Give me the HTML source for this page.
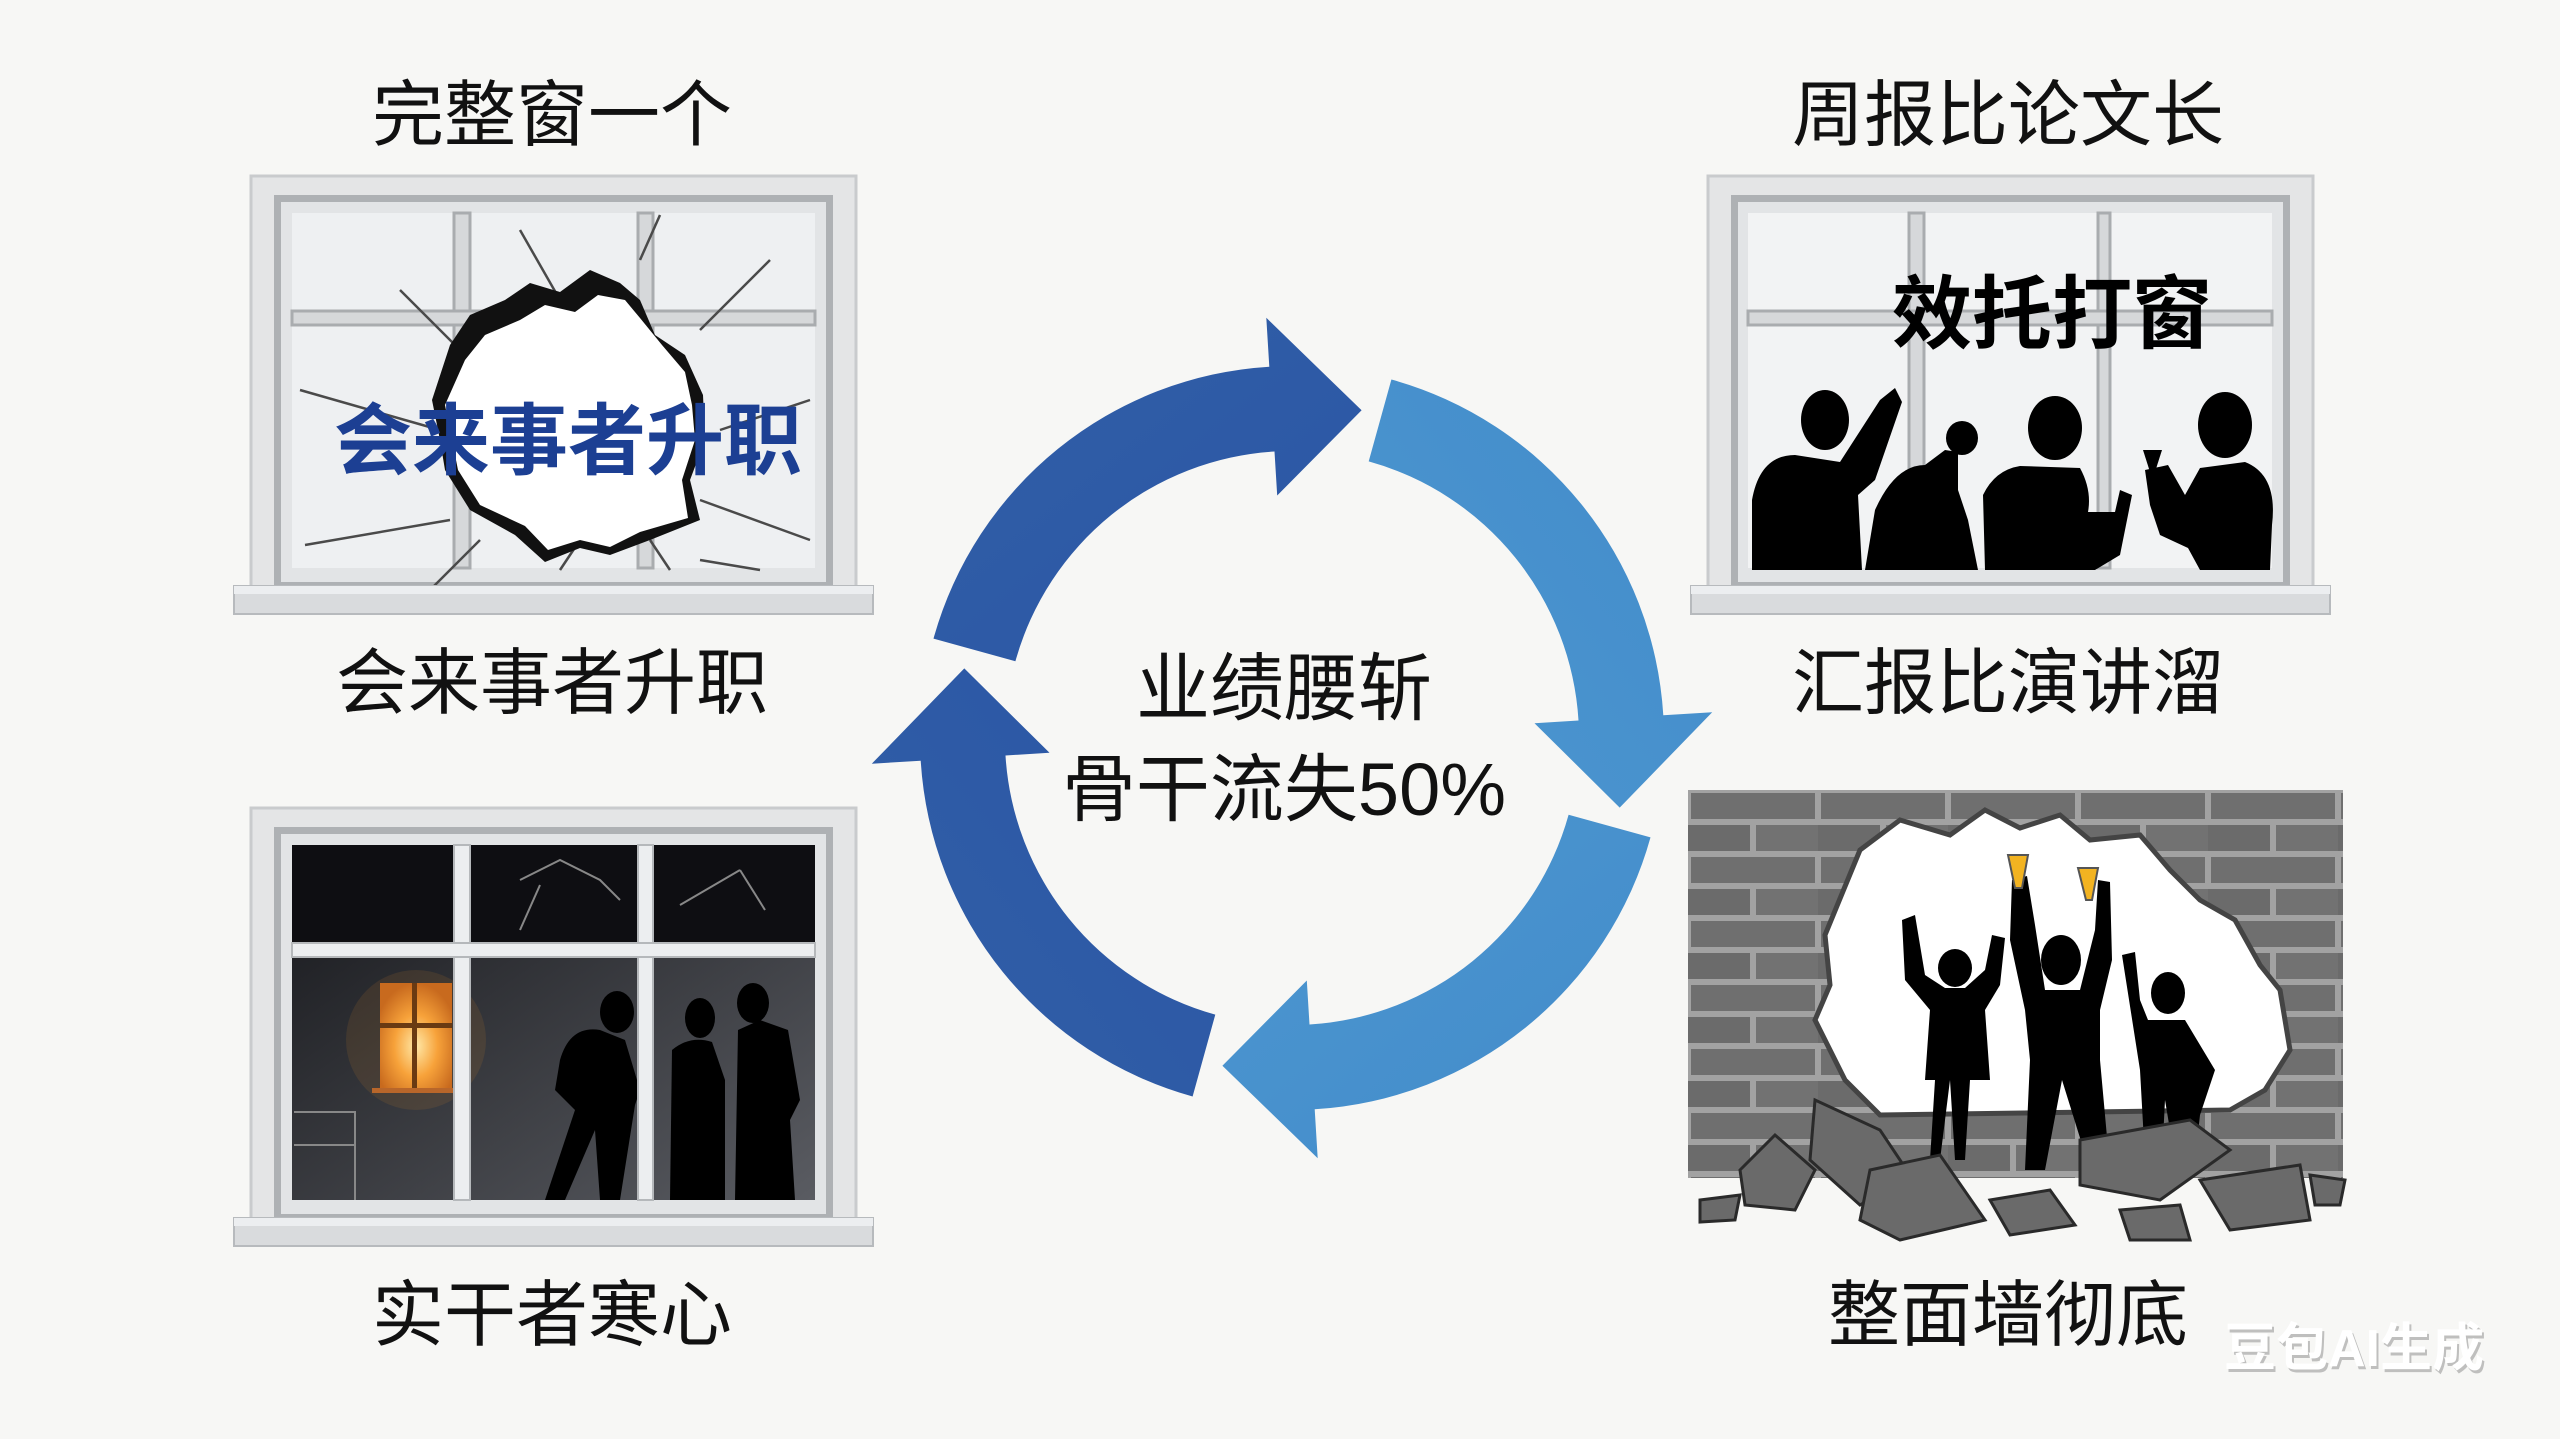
<!DOCTYPE html>
<html><head><meta charset="utf-8"><style>
html,body{margin:0;padding:0;background:#f7f7f5;}
svg{display:block}
text{font-family:"Liberation Sans","Noto Sans CJK SC",sans-serif;}
</style></head><body>
<svg width="2560" height="1439" viewBox="0 0 2560 1439" xmlns="http://www.w3.org/2000/svg">
<defs>
<linearGradient id="dk" x1="0" y1="0" x2="1" y2="1"><stop offset="0" stop-color="#2a55a4"/><stop offset="1" stop-color="#3260a8"/></linearGradient>
<linearGradient id="lt" x1="0" y1="0" x2="1" y2="1"><stop offset="0" stop-color="#4d97cf"/><stop offset="1" stop-color="#428bcb"/></linearGradient>
<linearGradient id="night" x1="0" y1="0" x2="1" y2="1"><stop offset="0" stop-color="#16171b"/><stop offset="1" stop-color="#5a5c62"/></linearGradient>
<radialGradient id="glow" cx="0.5" cy="0.6" r="0.6"><stop offset="0" stop-color="#ffe9a8"/><stop offset="0.5" stop-color="#f7a23a"/><stop offset="1" stop-color="#c86a1e"/></radialGradient>
<pattern id="brick" x="1688" y="790" width="130" height="64" patternUnits="userSpaceOnUse">
<rect width="130" height="64" fill="#a2a2a2"/>
<rect x="3" y="3" width="124" height="26" fill="#6f6f6f"/>
<rect x="-62" y="35" width="124" height="26" fill="#6b6b6b"/>
<rect x="68" y="35" width="124" height="26" fill="#727272"/>
</pattern>
<g id="frame">
<rect x="0" y="0" width="605" height="412" fill="#e4e5e6" stroke="#c9cbcd" stroke-width="3"/>
<rect x="23" y="19" width="559" height="390" fill="#aeb1b4"/>
<rect x="30" y="26" width="545" height="380" fill="#e2e4e6"/>
</g>
</defs>

<g font-size="72" fill="#111" text-anchor="middle">
<text x="552" y="140">完整窗一个</text>
<text x="552" y="708">会来事者升职</text>
<text x="552" y="1340">实干者寒心</text>
<text x="2008" y="140">周报比论文长</text>
<text x="2008" y="708">汇报比演讲溜</text>
<text x="2008" y="1340">整面墙彻底</text>
</g>

<!-- TL window -->
<g>
<use href="#frame" x="251" y="176"/>
<rect x="292" y="213" width="523" height="355" fill="#eef0f2"/>
<rect x="454" y="213" width="16" height="355" fill="#d6d8da" stroke="#a9acaf" stroke-width="3"/>
<rect x="638" y="213" width="15" height="355" fill="#d6d8da" stroke="#a9acaf" stroke-width="3"/>
<rect x="292" y="311" width="523" height="14" fill="#d6d8da" stroke="#a9acaf" stroke-width="3"/>
<g stroke="#4a4a4a" stroke-width="2.5">
<line x1="560" y1="300" x2="520" y2="230"/><line x1="470" y1="360" x2="400" y2="290"/><line x1="440" y1="430" x2="300" y2="390"/>
<line x1="450" y1="520" x2="305" y2="545"/><line x1="480" y1="540" x2="420" y2="600"/><line x1="580" y1="540" x2="560" y2="570"/>
<line x1="640" y1="260" x2="660" y2="215"/><line x1="700" y1="330" x2="770" y2="260"/><line x1="720" y1="430" x2="810" y2="400"/>
<line x1="700" y1="560" x2="760" y2="570"/><line x1="650" y1="540" x2="670" y2="570"/><line x1="700" y1="500" x2="810" y2="540"/>
</g>
<polygon points="450,345 470,315 505,300 530,283 560,292 590,270 620,283 640,300 655,335 685,355 703,395 705,440 690,480 700,520 650,540 610,555 580,548 545,562 515,535 470,510 445,470 440,440 432,400" fill="#111"/>
<polygon points="465,360 485,335 520,320 545,305 575,312 598,295 625,300 640,318 662,345 685,372 692,405 695,440 682,480 688,518 640,532 610,547 580,540 548,550 525,526 480,505 458,470 452,440 445,405" fill="#fff"/>
<text x="568" y="468" font-size="78" font-weight="bold" fill="#1c3f93" text-anchor="middle">会来事者升职</text>
<rect x="234" y="586" width="639" height="28" fill="#d9dbdd" stroke="#b7babd" stroke-width="2"/>
<rect x="234" y="586" width="639" height="8" fill="#eceef0"/>
</g>

<!-- TR window -->
<g>
<use href="#frame" x="1708" y="176"/>
<rect x="1748" y="213" width="524" height="355" fill="#f2f3f4"/>
<rect x="1909" y="213" width="15" height="355" fill="#d6d8da" stroke="#a9acaf" stroke-width="3"/>
<rect x="2098" y="213" width="12" height="355" fill="#d6d8da" stroke="#a9acaf" stroke-width="3"/>
<rect x="1748" y="311" width="524" height="14" fill="#d6d8da" stroke="#a9acaf" stroke-width="3"/>
<g fill="#000">
<ellipse cx="1825" cy="420" rx="24" ry="30"/>
<path d="M1752,500 Q1760,455 1795,455 L1840,462 L1880,400 L1895,388 L1902,402 L1875,480 L1858,495 L1862,570 L1752,570 Z"/>
<ellipse cx="1962" cy="438" rx="16" ry="17"/>
<path d="M1865,570 L1875,510 Q1895,465 1925,465 L1945,450 L1958,452 L1958,490 L1968,520 L1978,570 Z"/>
<ellipse cx="2055" cy="428" rx="27" ry="32"/>
<path d="M1985,570 L1983,495 Q1995,470 2020,466 L2080,468 Q2092,490 2088,512 L2115,512 L2120,490 L2132,495 L2120,555 L2095,570 Z"/>
<ellipse cx="2225" cy="425" rx="27" ry="33"/>
<path d="M2150,505 L2145,470 L2168,465 L2185,495 L2200,468 L2245,462 Q2278,475 2272,525 L2270,570 L2200,570 L2188,548 L2160,535 Z"/>
<polygon points="2143,450 2162,450 2155,472 2150,472"/>
</g>
<text x="2052" y="342" font-size="80" font-weight="bold" fill="#000" text-anchor="middle">效托打窗</text>
<rect x="1691" y="586" width="639" height="28" fill="#d9dbdd" stroke="#b7babd" stroke-width="2"/>
<rect x="1691" y="586" width="639" height="8" fill="#eceef0"/>
</g>

<!-- BL window -->
<g>
<use href="#frame" x="251" y="808"/>
<rect x="292" y="845" width="523" height="355" fill="url(#night)"/>
<rect x="292" y="845" width="523" height="98" fill="#0e0e12"/>
<circle cx="416" cy="1040" r="70" fill="#e08a2a" opacity="0.12"/>
<rect x="380" y="983" width="72" height="105" fill="url(#glow)"/>
<rect x="412" y="983" width="5" height="105" fill="#6a3a12"/>
<rect x="380" y="1023" width="72" height="5" fill="#6a3a12"/>
<rect x="372" y="1088" width="90" height="5" fill="#b8662a"/>
<g stroke="#888" stroke-width="2" fill="none"><path d="M294,1112 L355,1112 L355,1200"/><path d="M294,1145 L355,1145"/></g>
<g stroke="#888" stroke-width="2" fill="none"><path d="M520,880 L560,860 L600,880 L620,900"/><path d="M540,885 L520,930"/><path d="M680,905 L740,870"/><path d="M740,870 L765,910"/></g>
<g fill="#000">
<ellipse cx="617" cy="1012" rx="17" ry="21"/>
<path d="M560,1060 Q570,1025 600,1030 L625,1040 L640,1090 L635,1105 L620,1200 L600,1200 L595,1130 L565,1200 L545,1200 L575,1110 L555,1090 Z"/>
<ellipse cx="700" cy="1018" rx="15" ry="20"/>
<path d="M670,1200 L672,1050 Q690,1035 712,1042 L725,1080 L725,1200 Z"/>
<ellipse cx="753" cy="1003" rx="16" ry="20"/>
<path d="M735,1200 L738,1030 L760,1020 L788,1030 L800,1100 L790,1120 L795,1200 Z"/>
</g>
<rect x="454" y="845" width="16" height="355" fill="#eceef0" stroke="#b5b8bb" stroke-width="2"/>
<rect x="638" y="845" width="15" height="355" fill="#eceef0" stroke="#b5b8bb" stroke-width="2"/>
<rect x="292" y="943" width="523" height="14" fill="#eceef0" stroke="#b5b8bb" stroke-width="2"/>
<rect x="234" y="1218" width="639" height="28" fill="#d9dbdd" stroke="#b7babd" stroke-width="2"/>
<rect x="234" y="1218" width="639" height="8" fill="#eceef0"/>
</g>

<!-- BR wall -->
<g>
<rect x="1688" y="790" width="655" height="388" fill="url(#brick)"/>
<polygon points="1860,850 1900,820 1950,835 1985,810 2020,828 2060,815 2090,840 2140,835 2170,870 2200,900 2235,920 2260,965 2280,990 2290,1050 2265,1090 2230,1110 1880,1115 1845,1080 1815,1020 1830,985 1825,935" fill="#fff" stroke="#444" stroke-width="5"/>
<g fill="#000">
<ellipse cx="1955" cy="968" rx="17" ry="19"/>
<path d="M1902,920 L1915,915 L1925,975 L1945,988 L1965,988 L1985,970 L1992,935 L2005,938 L2000,985 L1985,1010 L1990,1080 L1970,1080 L1965,1160 L1955,1160 L1950,1080 L1940,1160 L1930,1160 L1935,1080 L1925,1080 L1930,1010 L1905,980 Z"/>
<ellipse cx="2061" cy="960" rx="20" ry="25"/>
<path d="M2012,880 L2027,876 L2035,925 L2045,990 L2080,990 L2095,930 L2098,880 L2110,882 L2112,960 L2100,1010 L2100,1060 L2110,1170 L2090,1170 L2062,1080 L2045,1170 L2025,1170 L2030,1060 L2025,1010 L2010,940 Z"/>
<ellipse cx="2168" cy="993" rx="17" ry="21"/>
<path d="M2122,955 L2135,952 L2140,1000 L2148,1020 L2185,1020 L2215,1070 L2200,1115 L2195,1160 L2175,1160 L2165,1100 L2162,1160 L2145,1160 L2140,1070 Z"/>
</g>
<g fill="#f2b321" stroke="#555" stroke-width="2"><path d="M2015,888 L2008,855 L2028,855 L2022,888 Z"/><path d="M2086,900 L2078,868 L2098,868 L2092,900 Z"/></g>
<g fill="#6a6a6a" stroke="#2a2a2a" stroke-width="3">
<polygon points="1740,1170 1775,1135 1815,1170 1795,1210 1745,1205"/>
<polygon points="1815,1100 1880,1130 1910,1175 1860,1205 1810,1160"/>
<polygon points="1870,1170 1940,1155 1985,1220 1900,1240 1860,1220"/>
<polygon points="2080,1140 2190,1120 2230,1150 2160,1200 2080,1185"/>
<polygon points="2200,1180 2300,1165 2310,1220 2230,1230"/>
<polygon points="1990,1200 2050,1190 2075,1225 2010,1235"/>
<polygon points="2120,1210 2180,1205 2190,1240 2130,1240"/>
<polygon points="1700,1200 1740,1195 1735,1220 1700,1222"/>
<polygon points="2310,1175 2345,1180 2340,1205 2315,1205"/>
</g>
</g>

<!-- Cycle arrows -->
<g transform="translate(1292,738)">
<path d="M358.5,99.4 A372,372 0 0 1 22.7,371.3 L25.7,420.2 L-69.6,327.7 L14.8,242.5 L17.5,286.5 A287,287 0 0 0 276.6,76.7 Z" fill="url(#lt)"/>
<path d="M358.5,99.4 A372,372 0 0 1 22.7,371.3 L25.7,420.2 L-69.6,327.7 L14.8,242.5 L17.5,286.5 A287,287 0 0 0 276.6,76.7 Z" transform="rotate(90)" fill="url(#dk)"/>
<path d="M358.5,99.4 A372,372 0 0 1 22.7,371.3 L25.7,420.2 L-69.6,327.7 L14.8,242.5 L17.5,286.5 A287,287 0 0 0 276.6,76.7 Z" transform="rotate(180)" fill="url(#dk)"/>
<path d="M358.5,99.4 A372,372 0 0 1 22.7,371.3 L25.7,420.2 L-69.6,327.7 L14.8,242.5 L17.5,286.5 A287,287 0 0 0 276.6,76.7 Z" transform="rotate(270)" fill="url(#lt)"/>
</g>
<g font-size="74" fill="#111" text-anchor="middle">
<text x="1284" y="714">业绩腰斩</text>
<text x="1284" y="815">骨干流失50%</text>
</g>

<text x="2356" y="1369" font-size="52" font-weight="bold" fill="#9a9a9a" text-anchor="middle" opacity="0.6">豆包AI生成</text>
<text x="2354" y="1366" font-size="52" font-weight="bold" fill="#ffffff" text-anchor="middle">豆包AI生成</text>
</svg>
</body></html>
